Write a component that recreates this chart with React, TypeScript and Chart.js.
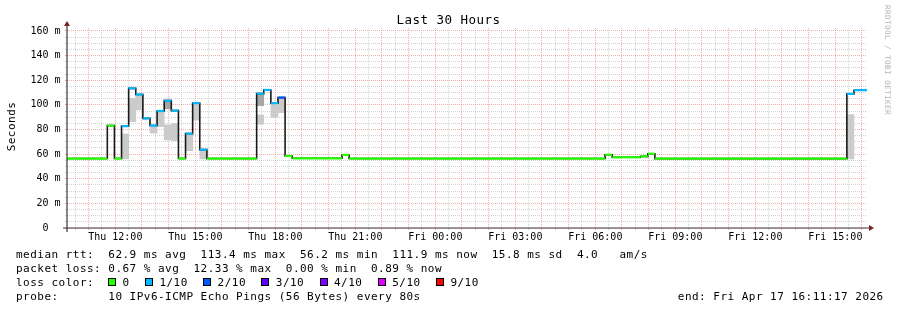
import React, { useEffect, useRef } from 'react';
import { Chart, registerables } from 'chart.js';

Chart.register(...registerables);

// ---------- data ----------
const START = 'Thu 10:11:17';
const END = 'Fri 16:11:17';
const STEP_MINUTES = 16;

// median RTT steps: start time of each step, median in ms, lost pings out of 10
const segStart = [
  'Thu 10:11:17', 'Thu 11:42', 'Thu 11:58', 'Thu 12:14', 'Thu 12:30', 'Thu 12:46', 'Thu 13:02', 'Thu 13:18',
  'Thu 13:34', 'Thu 13:50', 'Thu 14:06', 'Thu 14:22', 'Thu 14:38', 'Thu 14:54', 'Thu 15:10', 'Thu 15:26',
  'Thu 17:18', 'Thu 17:34', 'Thu 17:50', 'Thu 18:06', 'Thu 18:22', 'Thu 18:38', 'Thu 20:30', 'Thu 20:46',
  'Fri 06:22', 'Fri 06:38', 'Fri 07:42', 'Fri 07:58', 'Fri 08:14', 'Fri 15:26', 'Fri 15:42',
];
const medianMs = [
  56.4, 83.1, 56.4, 82.7, 113.4, 108.4, 89.0, 83.2,
  95.0, 103.4, 95.3, 56.4, 76.6, 101.4, 63.6, 56.4,
  109.1, 112.1, 101.4, 105.9, 58.5, 56.6, 59.3, 56.4,
  59.5, 57.4, 58.2, 60.3, 56.3, 108.9, 111.9,
];
const lossTenths = [
  0, 0, 0, 1, 1, 1, 1, 1,
  1, 1, 1, 0, 1, 1, 1, 0,
  1, 1, 1, 2, 0, 0, 0, 0,
  0, 0, 0, 0, 0, 1, 1,
];

// smoke (spread of the pings) per 16-minute step
const smokeTimes = [
  'Thu 12:14', 'Thu 12:30', 'Thu 12:46', 'Thu 13:18', 'Thu 13:34', 'Thu 13:50', 'Thu 14:06',
  'Thu 14:38', 'Thu 14:54', 'Thu 15:10', 'Thu 17:18', 'Thu 17:50', 'Thu 18:06', 'Fri 15:26',
];
const smokeLow = [56.1, 86.4, 95.9, 77.0, 82.3, 71.5, 71.0, 62.8, 87.7, 56.0, 84.2, 89.9, 93.7, 56.1];
const smokeHigh = [76.4, 105.4, 108.3, 82.3, 94.5, 83.7, 85.0, 76.1, 100.5, 63.1, 91.8, 100.7, 105.4, 92.1];
const coreSmokeTimes = ['Thu 13:50', 'Thu 17:18'];
const coreSmokeLow = [96.7, 99.4];
const coreSmokeHigh = [102.6, 108.3];

const xTickHours = [12, 15, 18, 21, 24, 27, 30, 33, 36, 39];
const xTickLabels = ['Thu 12:00', 'Thu 15:00', 'Thu 18:00', 'Thu 21:00', 'Fri 00:00', 'Fri 03:00', 'Fri 06:00', 'Fri 09:00', 'Fri 12:00', 'Fri 15:00'];
const yTickValues = [0, 20, 40, 60, 80, 100, 120, 140, 160];
const yTickLabels = ['0  ', '20 m', '40 m', '60 m', '80 m', '100 m', '120 m', '140 m', '160 m'];
const Y_MAX = 162.4;

const lossLegendLabels = ['0', '1/10', '2/10', '3/10', '4/10', '5/10', '9/10'];
const lossLegendColors = ['#26ff00', '#00b8ff', '#0059ff', '#5e00ff', '#7e00ff', '#dd00ff', '#ff0000'];

const statsRtt = 'median rtt:  62.9 ms avg  113.4 ms max  56.2 ms min  111.9 ms now  15.8 ms sd  4.0   am/s';
const statsLoss = 'packet loss: 0.67 % avg  12.33 % max  0.00 % min  0.89 % now';
const lossColorTitle = 'loss color:';
const probeText = 'probe:       10 IPv6-ICMP Echo Pings (56 Bytes) every 80s';
const endText = 'end: Fri Apr 17 16:11:17 2026';
const TITLE = 'Last 30 Hours';
const UNIT = 'Seconds';
const WATERMARK = 'RRDTOOL / TOBI OETIKER';

// ---------- layout / style ----------
const MONO = '"DejaVu Sans Mono", monospace';
const MAJOR = 'rgba(222,79,79,0.45)';
const MINOR = 'rgba(143,143,143,0.38)';
const ADV = 7.1;

function parseTime(s: string): number {
  const [d, hms] = s.split(' ');
  const [h, m, sec] = hms.split(':').map(Number);
  return (d === 'Fri' ? 24 : 0) + h + m / 60 + (sec || 0) / 3600;
}

function lossColor(t: number): string {
  const idx = t <= 0 ? 0 : t <= 4 ? t : t <= 8 ? 5 : 6;
  return lossLegendColors[idx];
}

function mono(ctx: CanvasRenderingContext2D, text: string, x: number, y: number, adv: number) {
  for (let i = 0; i < text.length; i++) ctx.fillText(text[i], x + i * adv, y);
}

const decor = {
  id: 'rrdDecor',
  afterDraw(chart: any) {
    const { ctx, chartArea: a } = chart;
    ctx.save();
    // axes
    ctx.strokeStyle = '#3a3a3a';
    ctx.lineWidth = 1.2;
    ctx.setLineDash([]);
    ctx.beginPath();
    ctx.moveTo(a.left - 4, a.bottom);
    ctx.lineTo(a.right + 4, a.bottom);
    ctx.moveTo(a.left, a.bottom + 4);
    ctx.lineTo(a.left, a.top - 4);
    ctx.stroke();
    // arrows
    ctx.fillStyle = '#801f1f';
    ctx.beginPath();
    ctx.moveTo(a.right + 2, a.bottom - 3);
    ctx.lineTo(a.right + 2, a.bottom + 3);
    ctx.lineTo(a.right + 7, a.bottom);
    ctx.closePath();
    ctx.fill();
    ctx.beginPath();
    ctx.moveTo(a.left - 3, a.top - 2);
    ctx.lineTo(a.left + 3, a.top - 2);
    ctx.lineTo(a.left, a.top - 7);
    ctx.closePath();
    ctx.fill();

    ctx.textAlign = 'left';
    ctx.textBaseline = 'alphabetic';
    ctx.fillStyle = '#000';
    // title
    ctx.font = `12.5px ${MONO}`;
    mono(ctx, TITLE, 448.5 - (TITLE.length * 8) / 2, 23.5, 8);
    // unit label
    ctx.font = `11px ${MONO}`;
    ctx.save();
    ctx.translate(15, 126.5 + (UNIT.length * ADV) / 2);
    ctx.rotate(-Math.PI / 2);
    mono(ctx, UNIT, 0, 0, ADV);
    ctx.restore();
    // watermark
    ctx.save();
    ctx.fillStyle = '#b4b4b4';
    ctx.font = `7.6px ${MONO}`;
    ctx.translate(885, 5);
    ctx.rotate(Math.PI / 2);
    mono(ctx, WATERMARK, 0, 0, 5);
    ctx.restore();
    // legend
    ctx.font = `11px ${MONO}`;
    mono(ctx, statsRtt, 16, 257.7, ADV);
    mono(ctx, statsLoss, 16, 271.7, ADV);
    mono(ctx, lossColorTitle, 16, 285.7, ADV);
    let bx = 108;
    lossLegendLabels.forEach((lab, i) => {
      const x = Math.round(bx);
      ctx.fillStyle = lossLegendColors[i];
      ctx.fillRect(x, 278, 8, 8);
      ctx.strokeStyle = '#000';
      ctx.lineWidth = 1;
      ctx.strokeRect(x + 0.5, 278.5, 7, 7);
      ctx.fillStyle = '#000';
      const tx = bx + 14.5;
      mono(ctx, lab, tx, 285.7, ADV);
      bx = tx + lab.length * ADV + 15.3;
    });
    mono(ctx, probeText, 16, 300, ADV);
    mono(ctx, endText, 883.7 - endText.length * ADV, 300, ADV);
    ctx.restore();
  },
};

export default function App() {
  const ref = useRef<HTMLCanvasElement>(null);

  useEffect(() => {
    const canvas = ref.current;
    if (!canvas) return;
    const tStart = parseTime(START);
    const tEnd = parseTime(END);

    const S = segStart.map(parseTime);
    const ends = S.map((t, i) => (i + 1 < S.length ? S[i + 1] : tEnd));
    const bandData: any[] = [];
    const bandColors: string[] = [];
    S.forEach((t, i) => {
      const c = lossColor(lossTenths[i]);
      bandData.push({ x: t, y: medianMs[i] }, { x: ends[i], y: medianMs[i] }, { x: ends[i], y: null });
      bandColors.push(c, c, c);
    });
    const medianData = S.map((t, i) => ({ x: t, y: medianMs[i] })).concat([
      { x: tEnd, y: medianMs[medianMs.length - 1] },
    ]);
    const half = STEP_MINUTES / 60 / 2;
    const smokeData = smokeTimes.map((s, i) => ({ x: parseTime(s) + half, y: [smokeLow[i], smokeHigh[i]] }));
    const coreData = coreSmokeTimes.map((s, i) => ({ x: parseTime(s) + half, y: [coreSmokeLow[i], coreSmokeHigh[i]] }));

    const chart = new Chart(canvas, {
      type: 'line',
      data: {
        datasets: [
          {
            type: 'line',
            data: bandData,
            borderColor: '#26ff00',
            borderWidth: 2.2,
            pointRadius: 0,
            spanGaps: false,
            borderCapStyle: 'butt',
            fill: false,
            order: 0,
            segment: { borderColor: (c: any) => bandColors[c.p0DataIndex] },
          } as any,
          {
            type: 'line',
            data: medianData,
            stepped: true,
            borderColor: '#1a1a1a',
            borderWidth: 1.6,
            pointRadius: 0,
            fill: false,
            order: 1,
          } as any,
          {
            type: 'bar',
            data: coreData,
            backgroundColor: '#a6a6a6',
            borderWidth: 0,
            barPercentage: 1,
            categoryPercentage: 1,
            grouped: false,
            order: 2,
          } as any,
          {
            type: 'bar',
            data: smokeData,
            backgroundColor: '#cbcbcb',
            borderWidth: 0,
            barPercentage: 1,
            categoryPercentage: 1,
            grouped: false,
            order: 3,
          } as any,
        ],
      },
      options: {
        responsive: false,
        animation: false,
        devicePixelRatio: 1,
        events: [],
        layout: { padding: { left: 0, right: 30, top: 28, bottom: 0 } },
        plugins: { legend: { display: false }, tooltip: { enabled: false }, title: { display: false } },
        scales: {
          x: {
            type: 'linear',
            min: tStart,
            max: tEnd,
            offset: false,
            bounds: 'data',
            afterBuildTicks: (s: any) => {
              const t: any[] = [];
              for (let v = Math.ceil(tStart * 2) / 2; v <= tEnd; v += 0.5) t.push({ value: v });
              s.ticks = t;
            },
            afterFit: (s: any) => {
              s.height = 82;
            },
            grid: {
              offset: false,
              color: (c: any) => (c.tick && Number.isInteger(c.tick.value) ? MAJOR : MINOR),
              lineWidth: 1,
              tickLength: 2,
            },
            border: { display: false, dash: [1, 1] },
            ticks: {
              autoSkip: false,
              maxRotation: 0,
              minRotation: 0,
              padding: 1,
              color: '#000',
              font: { family: MONO, size: 10 },
              callback: (v: any) => {
                const i = xTickHours.indexOf(Number(v));
                return i >= 0 ? xTickLabels[i] : '';
              },
            },
          },
          y: {
            type: 'linear',
            min: 0,
            max: Y_MAX,
            afterBuildTicks: (s: any) => {
              const t: any[] = [];
              for (let v = 0; v <= Y_MAX; v += 5) t.push({ value: v });
              s.ticks = t;
            },
            afterFit: (s: any) => {
              s.width = 67;
            },
            grid: {
              color: (c: any) => (c.tick && c.tick.value % 20 === 0 ? MAJOR : MINOR),
              lineWidth: 1,
              tickLength: 2,
            },
            border: { display: false, dash: [1, 1] },
            ticks: {
              autoSkip: false,
              padding: 4.5,
              color: '#000',
              font: { family: MONO, size: 10 },
              callback: (v: any) => {
                const i = yTickValues.indexOf(Number(v));
                return i >= 0 ? yTickLabels[i] : '';
              },
            },
          },
        },
      } as any,
      plugins: [decor],
    });
    return () => chart.destroy();
  }, []);

  return (
    <div style={{ position: 'absolute', left: 0, top: 0, width: 897, height: 310, background: '#fff' }}>
      <canvas ref={ref} width={897} height={310} style={{ display: 'block', width: 897, height: 310 }} />
    </div>
  );
}
